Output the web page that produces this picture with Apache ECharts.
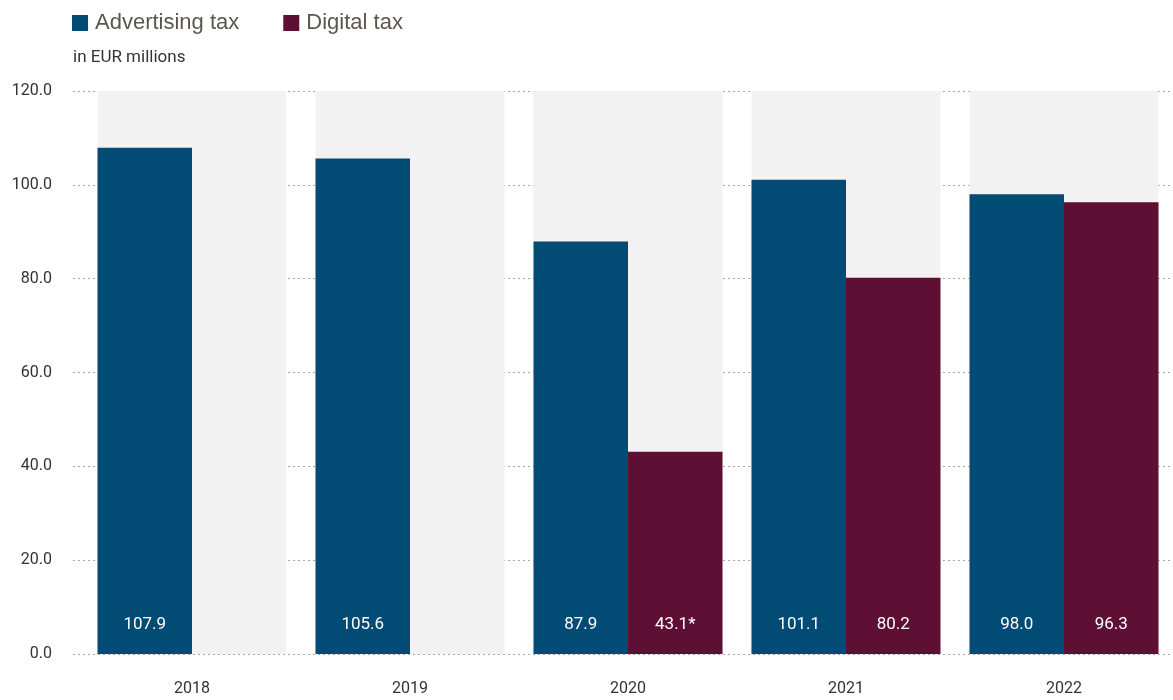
<!DOCTYPE html>
<html>
<head>
<meta charset="utf-8">
<script src="https://cdn.jsdelivr.net/npm/echarts@6/dist/echarts.min.js"></script>
<style>
  html, body { margin: 0; padding: 0; background: #fff; }
  #chart { width: 1173px; height: 700px; }
</style>
</head>
<body>
<div id="chart"></div>
<script>
// Tax revenue by year, in EUR millions
const years = ['2018', '2019', '2020', '2021', '2022'];
const advertisingTax = [107.9, 105.6, 87.9, 101.1, 98.0];
const digitalTax = [null, null, 43.1, 80.2, 96.3];
const digitalNotes = ['', '', '*', '', ''];
const yTicks = { min: 0, max: 120, interval: 20 };

const BLUE = '#024b74';
const MAROON = '#5e0f34';
const BAND = '#f2f2f2';
const condensed = '"Roboto", sans-serif';

const chart = echarts.init(document.getElementById('chart'));

const barLabel = (notes) => ({
  show: true,
  position: 'insideBottom',
  distance: 21,
  color: '#ffffff',
  fontFamily: 'Roboto, sans-serif',
  fontSize: 17,
  formatter: (p) => p.value == null ? '' : p.value.toFixed(1) + (notes ? notes[p.dataIndex] : '')
});

chart.setOption({
  animation: false,
  legend: {
    left: 67,
    top: 7,
    itemWidth: 16,
    itemHeight: 16,
    itemGap: 44,
    icon: 'rect',
    textStyle: { color: '#5b5650', fontSize: 22, fontFamily: 'Liberation Sans, Arial, sans-serif', padding: [0, 0, 0, 2] },
    data: ['Advertising tax', 'Digital tax']
  },
  title: {
    text: 'in EUR millions',
    left: 68,
    top: 44,
    textStyle: { color: '#333', fontSize: 17, fontWeight: 'normal', fontFamily: condensed }
  },
  grid: [
    { left: 73, right: 3, top: 91, bottom: 46 },
    { left: 83, right: 0, top: 91, bottom: 46 }
  ],
  xAxis: [
    { type: 'value', gridIndex: 0, show: false, min: 0, max: 1 },
    {
      type: 'category', gridIndex: 1, data: years,
      axisLine: { show: false }, axisTick: { show: false },
      axisLabel: { color: '#333', fontSize: 16, fontFamily: condensed, margin: 27 }
    }
  ],
  yAxis: [
    {
      type: 'value', gridIndex: 0, ...yTicks,
      axisLine: { show: false }, axisTick: { show: false },
      axisLabel: { color: '#333', fontSize: 16, fontFamily: condensed, margin: 21, formatter: (v) => v.toFixed(1) },
      splitLine: { lineStyle: { color: '#a6a6a6', type: [2, 3], width: 1 } }
    },
    {
      type: 'value', gridIndex: 1, ...yTicks,
      axisLine: { show: false }, axisTick: { show: false }, axisLabel: { show: false },
      splitLine: { show: false }
    }
  ],
  series: [
    {
      name: 'Advertising tax', type: 'bar', xAxisIndex: 1, yAxisIndex: 1,
      data: advertisingTax,
      itemStyle: { color: BLUE },
      barGap: '0%', barCategoryGap: '13.3%',
      showBackground: true, backgroundStyle: { color: BAND },
      label: barLabel(null)
    },
    {
      name: 'Digital tax', type: 'bar', xAxisIndex: 1, yAxisIndex: 1,
      data: digitalTax,
      itemStyle: { color: MAROON },
      barGap: '0%', barCategoryGap: '13.3%',
      showBackground: true, backgroundStyle: { color: BAND },
      label: barLabel(digitalNotes)
    }
  ]
});
</script>
</body>
</html>
